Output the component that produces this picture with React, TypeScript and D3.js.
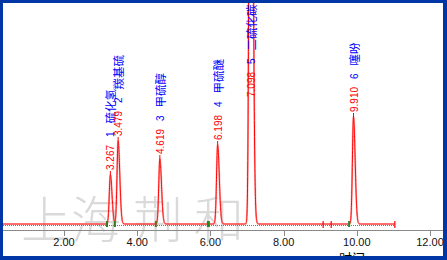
import React from 'react';
import * as d3 from 'd3';

// ---- data ----
const retentionTimes = [3.267, 3.479, 4.619, 6.198, 7.098, 9.910];
const peakHeights = [49, 83, 65, 79, 900, 107];
const peakNumbers = ['1', '2', '3', '4', '5', '6'];
const compoundNames = ['硫化氢', '羰基硫', '甲硫醇', '甲硫醚', '二硫化碳', '噻吩'];
const peakSigmaLeft = [0.03, 0.03, 0.03, 0.03, 0.033, 0.03];
const peakSigmaRight = [0.045, 0.045, 0.045, 0.045, 0.05, 0.045];
const xTicks = [2, 4, 6, 8, 10, 12];
const startMarkers = [3.175, 3.39, 4.51, 5.93, 9.79];
const startMarkerColors = ['#3a7a1e', '#3a7a1e', '#6b6b1e', '#1f8a1f', '#2a8a2a'];
const endMarkers = [9.08, 9.3, 11.04];
const runStart = 0.2;
const runEnd = 11.04;
const watermarkChars = ['上', '海', '荆', '和'];

const W = 447;
const H = 260;

function signal(t: number): number {
  let v = 0;
  for (let i = 0; i < retentionTimes.length; i++) {
    const d = t - retentionTimes[i];
    const s = d < 0 ? peakSigmaLeft[i] : peakSigmaRight[i];
    v += peakHeights[i] * Math.exp(-0.5 * (d / s) * (d / s));
  }
  return v;
}

export default function App() {
  const x = d3.scaleLinear().domain([2, 12]).range([64, 430]);
  const y = d3.scaleLinear().domain([0, 221]).range([224, 3]);

  const ts = d3.range(runStart, runEnd + 0.0001, 0.002);
  const pts: [number, number][] = ts.map((t) => [t, signal(t)]);
  const line = d3
    .line<[number, number]>()
    .x((d) => x(d[0]))
    .y((d) => Math.max(-50, y(d[1])));
  const path = line(pts) || '';

  const axisY = 230;
  const baseY = y(0);

  return (
    <svg
      width={W}
      height={H}
      style={{ position: 'absolute', left: 0, top: 0, background: '#fff' }}
      xmlns="http://www.w3.org/2000/svg"
    >
      <defs>
        <clipPath id="plot">
          <rect x={3} y={3} width={440} height={253} />
        </clipPath>
      </defs>
      <rect x={0} y={0} width={W} height={H} fill="#fff" />
      {/* watermark */}
      <g
        fill="#dadada"
        fontFamily="'Noto Sans CJK SC', sans-serif"
        fontSize={50}
        fontWeight={300}
        textAnchor="middle"
      >
        {watermarkChars.map((c, i) => (
          <text key={i} x={[46, 96, 158, 219][i]} y={238}>
            {c}
          </text>
        ))}
      </g>

      <g clipPath="url(#plot)">
        {/* x axis */}
        <line x1={3} x2={443} y1={axisY + 0.5} y2={axisY + 0.5} stroke="#8a8a8a" strokeWidth={1} />
        {xTicks.map((t) => (
          <g key={t}>
            <line
              x1={Math.round(x(t)) + 0.5}
              x2={Math.round(x(t)) + 0.5}
              y1={axisY}
              y2={axisY + 6}
              stroke="#8a8a8a"
            />
            <text
              x={x(t)}
              y={246}
              textAnchor="middle"
              fontFamily="'Liberation Sans', Arial, sans-serif"
              fontSize={11}
              fill="#111"
            >
              {t.toFixed(2)}
            </text>
          </g>
        ))}
        <text
          x={352}
          y={263}
          textAnchor="middle"
          fontFamily="'Noto Sans CJK SC', sans-serif"
          fontSize={13}
          fill="#000"
        >
          时间
        </text>

        {/* integration baseline (dotted) */}
        <line
          x1={3}
          x2={x(runEnd)}
          y1={baseY + 1.5}
          y2={baseY + 1.5}
          stroke="#ff4040"
          strokeDasharray="1,1"
          strokeWidth={1}
        />
        {/* chromatogram */}
        <line x1={3} x2={x(runStart)} y1={baseY} y2={baseY} stroke="#ff0000" strokeWidth={1} />
        <path d={path} fill="none" stroke="#ff9a9a" strokeWidth={2} strokeOpacity={0.7} />
        <path d={path} fill="none" stroke="#ff0000" strokeWidth={1} />

        {/* markers */}
        {startMarkers.map((t, i) => (
          <rect
            key={'s' + i}
            x={x(t) - 1}
            y={baseY - 3}
            width={i === 3 ? 3 : 2}
            height={6}
            fill={startMarkerColors[i]}
          />
        ))}
        {endMarkers.map((t, i) => (
          <line
            key={'e' + i}
            x1={x(t)}
            x2={x(t)}
            y1={baseY - 3}
            y2={baseY + 4}
            stroke="#ff0000"
            strokeWidth={1.2}
          />
        ))}

        {/* peak labels */}
        {retentionTimes.map((t, i) => {
          const px = x(t);
          const apex = y(peakHeights[i]);
          const offChart = apex < 20;
          const ly = offChart ? 97 : apex - 5;
          return (
            <g key={'l' + i}>
              {!offChart && (
                <line x1={px} x2={px} y1={apex} y2={apex - 4} stroke="#ff0000" strokeWidth={1} />
              )}
              <text
                transform={`translate(${px},${ly}) rotate(-90)`}
                dominantBaseline="central"
                fontFamily="'Liberation Sans', Arial, sans-serif"
                fontSize={10}
              >
                <tspan fill="#ff0000">{t.toFixed(3)}</tspan>
                <tspan fill="#0000ff" dx={8}>
                  {peakNumbers[i]}
                </tspan>
                <tspan
                  fill="#0000ff"
                  dx={8}
                  fontFamily="'Noto Sans CJK SC', sans-serif"
                  fontSize={11.5}
                >
                  {compoundNames[i]}
                </tspan>
              </text>
            </g>
          );
        })}
      </g>

      {/* blue frame */}
      <g fill="#0036a6">
        <rect x={0} y={0} width={W} height={3} />
        <rect x={0} y={0} width={3} height={H} />
        <rect x={443} y={0} width={4} height={H} />
        <rect x={0} y={256} width={W} height={4} />
      </g>
    </svg>
  );
}
